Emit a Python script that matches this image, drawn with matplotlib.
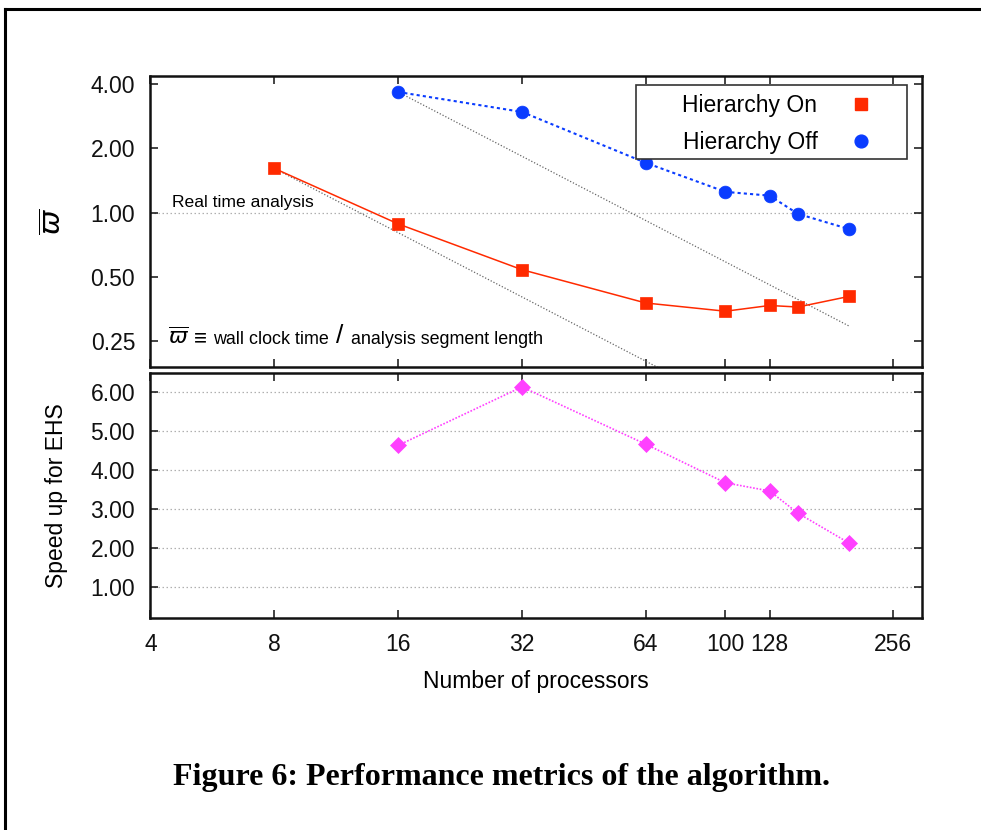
import matplotlib
matplotlib.use("Agg")
import matplotlib.pyplot as plt
import numpy as np
from matplotlib.lines import Line2D
from matplotlib.patches import Rectangle
from matplotlib.ticker import FixedLocator, FixedFormatter, NullLocator

plt.rcParams['font.family'] = ['Liberation Sans', 'DejaVu Sans']
plt.rcParams['mathtext.fontset'] = 'dejavusans'

# ---- data -------------------------------------------------------------
procs_on = [8, 16, 32, 64, 100, 128, 150, 200]
omega_on = [1.61, 0.885, 0.54, 0.377, 0.345, 0.367, 0.361, 0.405]

procs_off = [16, 32, 64, 100, 128, 150, 200]
omega_off = [3.67, 2.96, 1.71, 1.25, 1.20, 0.986, 0.836]

procs_speedup = [16, 32, 64, 100, 128, 150, 200]
speedup = [4.63, 6.13, 4.66, 3.67, 3.46, 2.89, 2.12]

x_ticks = [4, 8, 16, 32, 64, 100, 128, 256]
x_tick_labels = ['4', '8', '16', '32', '64', '100', '128', '256']
omega_ticks = [0.25, 0.5, 1.0, 2.0, 4.0]
speedup_ticks = [1, 2, 3, 4, 5, 6]

RED = '#ff2a00'
BLUE = '#0a3cff'
MAGENTA = '#ff40ff'
FS = 16.5

fig = plt.figure(figsize=(9.81, 8.30), dpi=100)
ax1 = fig.add_axes([0.1534, 0.5584, 0.7862, 0.3500])
ax2 = fig.add_axes([0.1534, 0.2554, 0.7862, 0.2958])

for ax in (ax1, ax2):
    ax.set_xscale('log')
    ax.set_xlim(4, 300)
    ax.xaxis.set_major_locator(FixedLocator(x_ticks))
    ax.xaxis.set_major_formatter(FixedFormatter(x_tick_labels))
    ax.xaxis.set_minor_locator(NullLocator())
    ax.tick_params(which='major', direction='in', length=6, width=1.1,
                   top=True, right=True, labelsize=FS, pad=11, colors='#111')
    for s in ax.spines.values():
        s.set_linewidth(1.8)
        s.set_color('#111')

# ---- top panel: normalised wall clock time ----------------------------
ax1.set_yscale('log')
ax1.set_ylim(0.19, 4.36)
ax1.yaxis.set_major_locator(FixedLocator(omega_ticks))
ax1.yaxis.set_major_formatter(FixedFormatter([f'{v:.2f}' for v in omega_ticks]))
ax1.yaxis.set_minor_locator(NullLocator())
ax1.tick_params(axis='x', labelbottom=False)

# real-time threshold
ax1.axhline(1.0, color='#b0b0b0', lw=0.9, ls=(0, (1.2, 2)), zorder=1)
ax1.text(4.5, 1.06, 'Real time analysis', fontsize=12.6, va='baseline', ha='left')

# ideal linear-scaling guides
ideal_a = np.array([procs_on[0], 300])
ax1.plot(ideal_a, omega_on[0] * procs_on[0] / ideal_a, color='#666', lw=0.9,
         ls=(0, (1, 1.5)), zorder=2)
ideal_b = np.array([procs_off[0], procs_off[-1]])
ax1.plot(ideal_b, omega_off[0] * procs_off[0] / ideal_b, color='#666', lw=0.9,
         ls=(0, (1, 1.5)), zorder=2)

ax1.plot(procs_on, omega_on, color=RED, lw=1.1, marker='s', ms=9.0,
         mec=RED, mew=0.5, zorder=4)
ax1.plot(procs_off, omega_off, color=BLUE, lw=1.5, ls=(0, (1.5, 1.5)),
         marker='o', ms=9.2, mec=BLUE, mew=0.5, zorder=4)

ax1.set_ylabel(r'$\overline{\varpi}$', fontsize=21, labelpad=0)
ax1.yaxis.set_label_coords(-0.108, 0.5)

# definition of the normalised time, written on one baseline
note_y = 0.241
t0 = ax1.text(4.42, note_y, r'$\overline{\varpi}$', fontsize=16,
              va='baseline', ha='left')
t1 = ax1.annotate('\u2261', xy=(1, note_y), xycoords=(t0, 'data'),
                  xytext=(3, 0), textcoords='offset points', fontsize=16,
                  va='baseline', ha='left')
t2 = ax1.annotate('wall clock time', xy=(1, note_y), xycoords=(t1, 'data'),
                  xytext=(5, 0), textcoords='offset points', fontsize=12.9,
                  va='baseline', ha='left')
t3 = ax1.annotate('/', xy=(1, note_y), xycoords=(t2, 'data'),
                  xytext=(5, 1), textcoords='offset points', fontsize=19,
                  va='baseline', ha='left')
ax1.annotate('analysis segment length', xy=(1, note_y), xycoords=(t3, 'data'),
             xytext=(5, 0), textcoords='offset points', fontsize=12.9,
             va='baseline', ha='left')

# legend with square frame
ax1.add_patch(Rectangle((0.6295, 0.7143), 0.3515, 0.2547, transform=ax1.transAxes,
                        fc='white', ec='#333', lw=1.2, zorder=5))
handles = [Line2D([], [], ls='none', marker='s', ms=9.0, color=RED, mec=RED),
           Line2D([], [], ls='none', marker='o', ms=9.2, color=BLUE, mec=BLUE)]
leg = ax1.legend(handles, ['Hierarchy On', 'Hierarchy Off'], loc='upper right',
                 bbox_to_anchor=(0.936, 0.939), frameon=False, markerfirst=False,
                 handlelength=1.0, handletextpad=1.4, labelspacing=0.63,
                 borderpad=0, borderaxespad=0, fontsize=FS)
leg.set_zorder(6)

# ---- bottom panel: speed-up -------------------------------------------
ax2.set_ylim(0.2, 6.5)
ax2.yaxis.set_major_locator(FixedLocator(speedup_ticks))
ax2.yaxis.set_major_formatter(FixedFormatter([f'{v:.2f}' for v in speedup_ticks]))
ax2.yaxis.set_minor_locator(NullLocator())
ax2.grid(axis='y', color='#b0b0b0', lw=0.9, ls=(0, (1.2, 2)))
ax2.set_axisbelow(True)

ax2.plot(procs_speedup, speedup, color=MAGENTA, lw=1.2, ls=(0, (1, 1)),
         marker='D', ms=8.0, mec=MAGENTA, mew=0.5, zorder=4)

ax2.set_ylabel('Speed up for EHS', fontsize=FS)
ax2.yaxis.set_label_coords(-0.107, 0.5)
ax2.set_xlabel('Number of processors', fontsize=FS, labelpad=10)

# ---- caption and page frame -------------------------------------------
fig.text(0.511, 0.0627, 'Figure 6: Performance metrics of the algorithm.',
         ha='center', va='center', fontsize=23, fontweight='bold',
         family=['Liberation Serif', 'DejaVu Serif'])
fig.add_artist(Line2D([5 / 981, 1], [1 - 9 / 830] * 2, transform=fig.transFigure,
                      color='black', lw=2.2))
fig.add_artist(Line2D([5 / 981] * 2, [0, 1 - 9 / 830], transform=fig.transFigure,
                      color='black', lw=2.2))

fig.savefig('out.png', dpi=100, facecolor='white')
